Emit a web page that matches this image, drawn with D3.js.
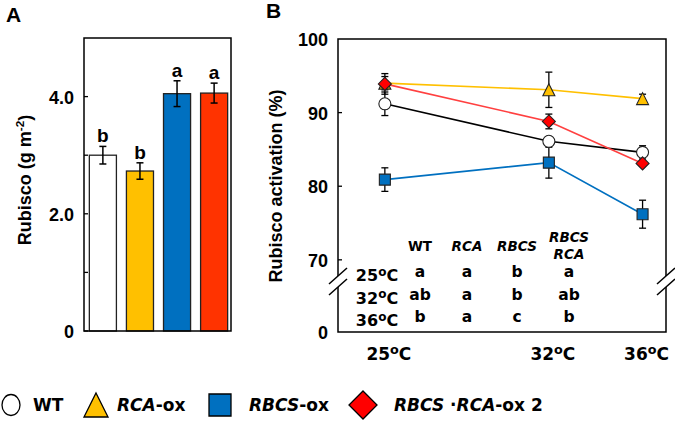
<!DOCTYPE html>
<html>
<head>
<meta charset="utf-8">
<script src="https://cdn.jsdelivr.net/npm/d3@7"></script>
<style>
  body { margin: 0; background: #fff; }
  svg { display: block; }
  .arial { font-family: "Liberation Sans", Arial, sans-serif; font-weight: bold; }
  .segoe { font-family: "DejaVu Sans", sans-serif; font-weight: bold; }
</style>
</head>
<body>
<div id="chart"></div>
<script>
// ---- data ----
var groups = ["WT", "RCA-ox", "RBCS-ox", "RBCS·RCA-ox 2"];
var groupColors = ["#ffffff", "#ffc000", "#0070c0", "#ff3300"];

// panel A: Rubisco content (g m-2)
var rubiscoMean = [3.00, 2.73, 4.05, 4.06];
var rubiscoErr = [0.15, 0.14, 0.22, 0.17];
var rubiscoLetters = ["b", "b", "a", "a"];
var rubiscoTicks = [0, 2.0, 4.0];
var rubiscoMinorTicks = [1.0, 3.0];

// panel B: Rubisco activation (%)
var temps = [25, 32, 36];
var actWT = [91.2, 86.1, 84.6];
var errWT = [1.6, 0.6, 0.9];
var actRCA = [94.0, 93.1, 91.9];
var errRCA = [0.9, 2.4, 0.6];
var actRBCS = [80.9, 83.2, 76.2];
var errRBCS = [1.6, 2.1, 1.9];
var actRBCSRCA = [93.9, 88.8, 83.1];
var errRBCSRCA = [1.4, 1.0, 0.3];
var activationTicks = [0, 70, 80, 90, 100];

// significance table inside panel B
var tableCols = ["WT", "RCA", "RBCS", "RBCS RCA"];
var tableRows = ["25", "32", "36"];
var tableLetters = [
  ["a", "a", "b", "a"],
  ["ab", "a", "b", "ab"],
  ["b", "a", "c", "b"]
];

var series = [
  { name: "WT", values: actWT, err: errWT, line: "#000000", fill: "#ffffff", shape: "circle" },
  { name: "RCA-ox", values: actRCA, err: errRCA, line: "#ffc000", fill: "#ffc000", shape: "triangle" },
  { name: "RBCS-ox", values: actRBCS, err: errRBCS, line: "#0070c0", fill: "#0070c0", shape: "square" },
  { name: "RBCS·RCA-ox 2", values: actRBCSRCA, err: errRBCSRCA, line: "#ff4040", fill: "#ff0000", shape: "diamond" }
];

var W = 675, H = 421;
var svg = d3.select("#chart").append("svg").attr("width", W).attr("height", H);

function markerPath(shape, s) {
  var h = s / 2;
  if (shape === "circle") return null;
  if (shape === "triangle") return "M0," + (-h) + "L" + h + "," + h + "L" + (-h) + "," + h + "Z";
  if (shape === "square") return "M" + (-h) + "," + (-h) + "h" + s + "v" + s + "h" + (-s) + "Z";
  return "M0," + (-h) + "L" + h + ",0L0," + h + "L" + (-h) + ",0Z";
}

function degLabel(sel, t) {
  sel.append("tspan").text(t);
  sel.append("tspan").attr("font-size", "0.75em").attr("dy", "-0.45em").text("o");
  sel.append("tspan").attr("dy", "0.34em").text("C");
}

// ================= Panel A =================
var a = { left: 84, right: 231, top: 38, bottom: 331 };
var xA = d3.scaleBand().domain(groups).range([a.left + 2, a.right]).paddingInner(0.27).paddingOuter(0.09);
var yA = d3.scaleLinear().domain([0, 5]).range([a.bottom, a.top]);

svg.append("text").attr("class", "arial").attr("x", 6).attr("y", 22).attr("font-size", 21).text("A");

var gA = svg.append("g");
gA.selectAll(".bar").data(groups).join("rect")
  .attr("x", function (d) { return xA(d); })
  .attr("y", function (d, i) { return yA(rubiscoMean[i]); })
  .attr("width", xA.bandwidth())
  .attr("height", function (d, i) { return yA(0) - yA(rubiscoMean[i]); })
  .attr("fill", function (d, i) { return groupColors[i]; })
  .attr("stroke", "#222").attr("stroke-width", 1.3);

var ebA = gA.selectAll(".eb").data(groups).join("g")
  .attr("transform", function (d) { return "translate(" + (xA(d) + xA.bandwidth() / 2) + ",0)"; })
  .attr("stroke", "#000").attr("stroke-width", 1.5);
ebA.append("line").attr("y1", function (d, i) { return yA(rubiscoMean[i] + rubiscoErr[i]); })
  .attr("y2", function (d, i) { return yA(rubiscoMean[i] - rubiscoErr[i]); });
ebA.append("line").attr("x1", -3.5).attr("x2", 3.5)
  .attr("y1", function (d, i) { return yA(rubiscoMean[i] + rubiscoErr[i]); })
  .attr("y2", function (d, i) { return yA(rubiscoMean[i] + rubiscoErr[i]); });
ebA.append("line").attr("x1", -3.5).attr("x2", 3.5)
  .attr("y1", function (d, i) { return yA(rubiscoMean[i] - rubiscoErr[i]); })
  .attr("y2", function (d, i) { return yA(rubiscoMean[i] - rubiscoErr[i]); });

gA.selectAll(".let").data(groups).join("text")
  .attr("class", "arial").attr("font-size", 19).attr("text-anchor", "middle")
  .attr("x", function (d) { return xA(d) + xA.bandwidth() / 2; })
  .attr("y", function (d, i) { return yA(rubiscoMean[i] + rubiscoErr[i]) - 4; })
  .text(function (d, i) { return rubiscoLetters[i]; });

// frame
gA.append("rect").attr("x", a.left).attr("y", a.top).attr("width", a.right - a.left).attr("height", a.bottom - a.top)
  .attr("fill", "none").attr("stroke", "#000").attr("stroke-width", 1.5);
gA.selectAll(".tk").data(rubiscoTicks.concat(rubiscoMinorTicks)).join("line")
  .attr("x1", a.left).attr("x2", a.left + 4)
  .attr("y1", function (d) { return yA(d); }).attr("y2", function (d) { return yA(d); })
  .attr("stroke", "#000").attr("stroke-width", 1.3);
gA.selectAll(".tl").data(rubiscoTicks).join("text")
  .attr("class", "arial").attr("font-size", 18).attr("text-anchor", "end")
  .attr("x", a.left - 10).attr("y", function (d) { return yA(d) + 7; })
  .text(function (d) { return d === 0 ? "0" : d3.format(".1f")(d); });

var labA = svg.append("text").attr("class", "arial").attr("font-size", 18).attr("text-anchor", "middle")
  .attr("transform", "translate(31," + 180 + ") rotate(-90)");
labA.append("tspan").text("Rubisco (g m");
labA.append("tspan").attr("font-size", "0.65em").attr("dy", "-0.6em").text("-2");
labA.append("tspan").attr("dy", "0.4em").text(")");

// ================= Panel B =================
var b = { left: 338, right: 666, top: 39, bottom: 332 };
var xB = d3.scaleLinear().domain([23, 37]).range([b.left, b.right]);
var yB = d3.scaleLinear().domain([0, 64, 100]).range([b.bottom, 304, b.top]);

svg.append("text").attr("class", "arial").attr("x", 266).attr("y", 18).attr("font-size", 21).text("B");

var gB = svg.append("g");
// frame with axis breaks
var brk = [276, 287];
gB.append("path")
  .attr("d", "M" + b.left + "," + brk[0] + "V" + b.top + "H" + b.right + "V" + brk[0] +
    "M" + b.right + "," + brk[1] + "V" + b.bottom + "H" + b.left + "V" + brk[1])
  .attr("fill", "none").attr("stroke", "#000").attr("stroke-width", 1.5);
[b.left, b.right].forEach(function (x0) {
  brk.forEach(function (y0) {
    gB.append("line").attr("x1", x0 - 9).attr("x2", x0 + 9).attr("y1", y0 + 8).attr("y2", y0 - 8)
      .attr("stroke", "#000").attr("stroke-width", 1.5);
  });
});

gB.selectAll(".tk").data(activationTicks.filter(function (d) { return d > 0 && d < 100; })).join("line")
  .attr("x1", b.left).attr("x2", b.left + 4)
  .attr("y1", function (d) { return yB(d); }).attr("y2", function (d) { return yB(d); })
  .attr("stroke", "#000").attr("stroke-width", 1.3);
gB.selectAll(".tl").data(activationTicks).join("text")
  .attr("class", "arial").attr("font-size", 18).attr("text-anchor", "end")
  .attr("x", b.left - 10).attr("y", function (d) { return yB(d) + 7; })
  .text(function (d) { return d; });

gB.selectAll(".xl").data(temps).join("text")
  .attr("class", "segoe").attr("font-size", 17).attr("text-anchor", "middle")
  .attr("x", function (d) { return xB(d) + 4; }).attr("y", 360)
  .each(function (d) { degLabel(d3.select(this), d); });

svg.append("text").attr("class", "arial").attr("font-size", 18).attr("text-anchor", "middle")
  .attr("transform", "translate(282,186) rotate(-90)").text("Rubisco activation (%)");

// table
var xT = d3.scaleOrdinal().domain(tableCols).range([420, 467, 517, 569]);
var rowY = d3.scalePoint().domain(tableRows).range([277, 322]);
gB.selectAll(".th").data(tableCols).join("text")
  .attr("class", "segoe").attr("font-size", 13.5).attr("text-anchor", "middle")
  .attr("font-style", function (d) { return d === "WT" ? "normal" : "italic"; })
  .attr("x", function (d) { return xT(d); })
  .each(function (d) {
    var parts = d.split(" ");
    var t = d3.select(this);
    if (parts.length === 1) { t.attr("y", 251).text(d); }
    else {
      t.attr("y", 242);
      parts.forEach(function (p, i) { t.append("tspan").attr("x", xT(d)).attr("dy", i ? 17 : 0).text(p); });
    }
  });
gB.selectAll(".rl").data(tableRows).join("text")
  .attr("class", "segoe").attr("font-size", 16).attr("text-anchor", "middle")
  .attr("x", 377).attr("y", function (d) { return rowY(d) + 4; })
  .each(function (d) { degLabel(d3.select(this), d); });
tableLetters.forEach(function (row, r) {
  gB.selectAll(".cell" + r).data(row).join("text")
    .attr("class", "segoe").attr("font-size", 15.5).attr("text-anchor", "middle")
    .attr("x", function (d, c) { return xT(tableCols[c]); })
    .attr("y", rowY(tableRows[r]))
    .text(function (d) { return d; });
});

// lines, error bars, markers
var line = d3.line().x(function (d, i) { return xB(temps[i]); }).y(function (d) { return yB(d); });
series.forEach(function (s) {
  gB.append("path").datum(s.values).attr("d", line)
    .attr("fill", "none").attr("stroke", s.line).attr("stroke-width", 1.6);
});
series.forEach(function (s) {
  var g = gB.append("g").attr("stroke", "#000").attr("stroke-width", 1.3);
  s.values.forEach(function (v, i) {
    var x = xB(temps[i]), y1 = yB(v + s.err[i]), y2 = yB(v - s.err[i]);
    g.append("line").attr("x1", x).attr("x2", x).attr("y1", y1).attr("y2", y2);
    g.append("line").attr("x1", x - 3.5).attr("x2", x + 3.5).attr("y1", y1).attr("y2", y1);
    g.append("line").attr("x1", x - 3.5).attr("x2", x + 3.5).attr("y1", y2).attr("y2", y2);
  });
});
series.forEach(function (s) {
  var pts = gB.selectAll(".pt-" + s.shape).data(s.values).join(s.shape === "circle" ? "circle" : "path")
    .attr("fill", s.fill).attr("stroke", "#222").attr("stroke-width", 1.1);
  if (s.shape === "circle") {
    pts.attr("cx", function (d, i) { return xB(temps[i]); }).attr("cy", function (d) { return yB(d); }).attr("r", 6);
  } else {
    var sz = s.shape === "square" ? 11 : s.shape === "diamond" ? 13 : 12;
    pts.attr("transform", function (d, i) { return "translate(" + xB(temps[i]) + "," + yB(d) + ")"; })
      .attr("d", markerPath(s.shape, sz));
  }
});

// ================= Legend =================
var legX = [11, 96, 220, 363];
var legTextX = [33, 117, 249, 394];
var leg = svg.append("g").attr("transform", "translate(0,405)");
series.forEach(function (s, i) {
  var g = leg.append("g");
  if (s.shape === "circle") {
    g.append("ellipse").attr("cx", legX[i]).attr("rx", 9).attr("ry", 10.5)
      .attr("fill", "#fff").attr("stroke", "#000").attr("stroke-width", 1.3);
  } else {
    var sz = s.shape === "square" ? 22 : s.shape === "diamond" ? 28 : 24;
    g.append("path").attr("transform", "translate(" + legX[i] + ",0)")
      .attr("d", markerPath(s.shape, sz))
      .attr("fill", s.fill).attr("stroke", "#000").attr("stroke-width", 1.3);
  }
  var t = g.append("text").attr("class", "segoe").attr("font-size", 17).attr("x", legTextX[i]).attr("y", 6);
  var name = s.name;
  var m = name.match(/^(.*?)(-ox.*)$/);
  if (!m) { t.text(name); }
  else {
    var ital = m[1].split("·");
    ital.forEach(function (p, k) {
      if (k) t.append("tspan").text(" ·");
      t.append("tspan").attr("font-style", "italic").text(p);
    });
    t.append("tspan").text(m[2]);
  }
});
</script>
</body>
</html>
